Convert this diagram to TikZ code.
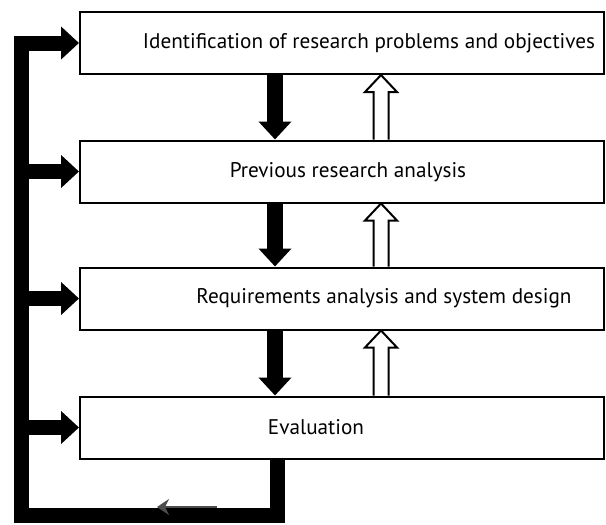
\documentclass[tikz,border=0pt]{standalone}
\usepackage{fontspec}
\setmainfont{PT Sans}
\usetikzlibrary{arrows.meta,calc}
\tikzset{
  box/.style={
    rectangle,
    draw=black, line width=1pt,
    minimum width=262pt, minimum height=31pt,
    inner sep=0pt},
  boxtext/.style={font=\fontsize{10.6}{12}\selectfont, inner sep=0pt},
  down arrow/.style={line width=8pt, -{Triangle[width=16pt,length=9pt]}},
  feed arrow/.style={line width=7.5pt, -{Triangle[width=16pt,length=9pt]}},
  feed bar/.style={line width=7.5pt, line join=miter},
  hollow/.style={draw=black, line width=1pt, fill=white, line join=miter},
  tick arrow/.style={draw=black!70, line width=0.9pt, -{Stealth[length=6pt,width=8pt]}},
}

\begin{document}
\begin{tikzpicture}[x=0.5pt,y=-0.5pt]
\useasboundingbox (0,0) rectangle (606,525);

\node[box] at (342,43) (b1) {};
\node[box] at (342,171.5) (b2) {};
\node[box] at (342,298.5) (b3) {};
\node[box] at (342,427.5) (b4) {};

\node[boxtext] at (369,43) (t1) {Identification of research problems and objectives};
\node[boxtext] at (348,172) (t2) {Previous research analysis};
\node[boxtext] at (384,298) (t3) {Requirements analysis and system design};
\node[boxtext] at (316,427) (t4) {Evaluation};

\coordinate (dnx) at (275,0);
\coordinate (upx) at (381,0);
\coordinate (fbr) at (277,515);
\coordinate (fbl) at (21.5,515);
\coordinate (fbt) at (21.5,36);
\coordinate (m1) at (217,507);
\coordinate (m2) at (157,507);

% downward flow
\draw[down arrow] (b1.south -| dnx) -- (b2.north -| dnx);
\draw[down arrow] (b2.south -| dnx) -- (b3.north -| dnx);
\draw[down arrow] (b3.south -| dnx) -- (b4.north -| dnx);

% hollow arrows back up
\foreach \lo/\hi in {b2/b1,b3/b2,b4/b3}
  \draw[hollow] let \p1=(\lo.north -| upx), \p2=(\hi.south -| upx) in
    (\x1-3.75pt,\y1) -- (\x1-3.75pt,\y2-8.5pt) -- (\x1-8pt,\y2-8.5pt) -- (\x2,\y2)
    -- (\x1+8pt,\y2-8.5pt) -- (\x1+3.75pt,\y2-8.5pt) -- (\x1+3.75pt,\y1);

% feedback loop
\draw[feed bar] (b4.south -| fbr) -- (fbr) -- (fbl) -- (fbt);
\draw[feed arrow] (b1.west -| fbt) -- (b1.west);
\draw[feed arrow] (b2.west -| fbt) -- (b2.west);
\draw[feed arrow] (b3.west -| fbt) -- (b3.west);
\draw[feed arrow] (b4.west -| fbt) -- (b4.west);
\draw[tick arrow] (m1) -- (m2);
\end{tikzpicture}
\end{document}
